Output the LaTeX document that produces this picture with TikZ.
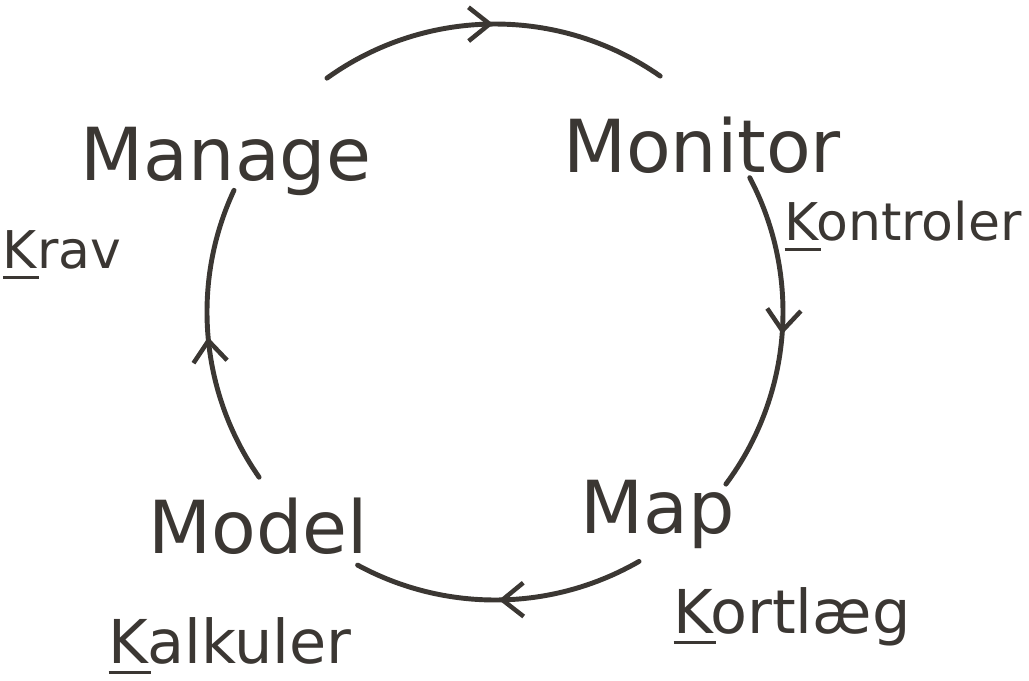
\documentclass[tikz,border=0pt]{standalone}
\usepackage{fontspec}
\setmainfont{DejaVu Sans}
\usetikzlibrary{arrows.meta,decorations.markings}
\definecolor{ink}{HTML}{3B3733}
\newcommand{\uK}{\leavevmode\rlap{\rule[-8pt]{0.7em}{2.6pt}}K}
\begin{document}
\begin{tikzpicture}
  [x=0.025cm,y=0.025cm,every node/.style={text=ink,anchor=base,inner sep=0pt}]
  \tikzstyle{big} = [font=\fontsize{52}{60}\selectfont]
  \tikzstyle{small} = [font=\fontsize{37}{44}\selectfont]
  \tikzstyle{wide} = [font=\fontsize{43}{50}\selectfont]
  \tikzstyle{cyclearc} = [draw=ink,line width=3.5pt,line cap=round,
    postaction={decorate},decoration={markings,
      mark=at position 0.5 with {\arrow[line width=3.2pt]{Straight Barb[length=15pt,width=24pt]}}}]
  \useasboundingbox (0,0) rectangle (1029,680);
  \coordinate (c) at (495,368);
  % words of the cycle
  \node[big] (manage) at (226,500) {Manage};
  \node[big] (monitor) at (702,508) {Monitor};
  \node[big] (map) at (658,147) {Map};
  \node[big] (model) at (258,127) {Model};
  % danish words
  \node[small] (krav) at (62,412) {\uK rav};
  \node[small] (kontroler) at (903,440) {\uK ontroler};
  \node[wide] (kortlaeg) at (792,47) {\uK ortlæg};
  \node[wide] (kalkuler) at (230,17) {\uK alkuler};
  % start points of the arcs
  \coordinate (p1) at ([shift={(125.7:288)}]c);
  \coordinate (p2) at ([shift={(27.8:288)}]c);
  \coordinate (p3) at ([shift={(-60:288)}]c);
  \coordinate (p4) at ([shift={(215:288)}]c);

\foreach \s /\a /\b in {p1/125.7/55,p2/27.8/-36.7,p3/-60/-118.5,p4/215/155}
   \draw[cyclearc] (\s) arc[start angle=\a,end angle=\b,radius=288];

  \end{tikzpicture}
\end{document}
